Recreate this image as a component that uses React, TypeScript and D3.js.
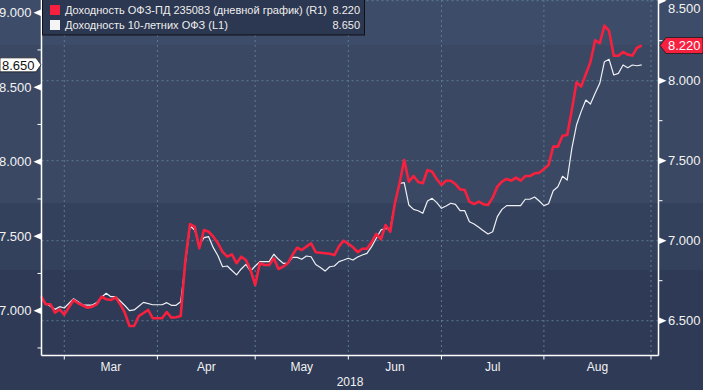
import React from "react";
import * as d3 from "d3";

// ---- Data (trading-day index since chart start, value) ----
const seriesRedName = "Доходность ОФЗ-ПД 235083 (дневной график) (R1)";
const seriesWhiteName = "Доходность 10-летних ОФЗ (L1)";
const redLast = 8.22;
const whiteLast = 8.65;

const redSeries: [number, number][] = [
  [0, 6.654], [1, 6.603], [2, 6.603], [3, 6.55], [4, 6.571], [5, 6.538], [6, 6.584], [7, 6.629],
  [8, 6.609], [10, 6.581], [11, 6.588], [12, 6.604], [13, 6.65], [14, 6.634], [15, 6.629], [16, 6.646],
  [17, 6.603], [18, 6.55], [19, 6.467], [20, 6.467], [21, 6.529], [23, 6.567], [24, 6.515], [25, 6.515],
  [26, 6.515], [27, 6.554], [28, 6.519], [29, 6.522], [30, 6.529], [31, 6.879], [32, 7.104], [33, 7.088],
  [34, 6.953], [35, 7.067], [36, 7.056], [37, 7.025], [38, 6.984], [39, 6.93], [40, 6.9], [41, 6.915],
  [42, 6.859], [43, 6.9], [44, 6.879], [45, 6.817], [46, 6.723], [47, 6.859], [48, 6.848], [49, 6.848],
  [50, 6.89], [51, 6.823], [52, 6.838], [53, 6.859], [54, 6.911], [55, 6.956], [56, 6.942], [57, 6.963],
  [58, 6.984], [59, 6.928], [60, 6.925], [61, 6.922], [62, 6.918], [63, 6.91], [64, 6.965], [65, 7.0],
  [66, 6.98], [67, 6.959], [68, 6.928], [69, 6.95], [70, 6.95], [71, 6.99], [72, 7.042], [73, 7.009],
  [74, 7.098], [75, 7.056], [76, 7.234], [77, 7.359], [78, 7.504], [79, 7.369], [80, 7.404], [81, 7.367],
  [82, 7.359], [83, 7.442], [84, 7.431], [85, 7.384], [86, 7.348], [87, 7.375], [88, 7.375], [89, 7.354],
  [90, 7.321], [91, 7.317], [92, 7.244], [93, 7.229], [94, 7.244], [95, 7.228], [96, 7.223], [97, 7.269],
  [98, 7.338], [99, 7.369], [100, 7.386], [101, 7.375], [102, 7.394], [103, 7.375], [104, 7.404], [105, 7.404],
  [106, 7.421], [107, 7.425], [108, 7.448], [109, 7.473], [110, 7.588], [111, 7.588], [112, 7.656], [113, 7.661],
  [114, 7.817], [115, 7.99], [116, 7.963], [117, 8.04], [118, 8.117], [119, 8.253], [120, 8.234], [121, 8.344],
  [122, 8.311], [123, 8.156], [124, 8.156], [125, 8.18], [126, 8.163], [127, 8.157], [128, 8.206], [129, 8.22],
];

const whiteSeries: [number, number][] = [
  [0, 7.09], [1, 7.05], [3, 7.009], [4, 7.027], [5, 7.018], [7, 7.081], [9, 7.038], [10, 7.038],
  [11, 7.038], [12, 7.055], [13, 7.09], [14, 7.117], [15, 7.094], [16, 7.094], [17, 7.065], [18, 7.035],
  [19, 7.0], [20, 7.005], [21, 7.03], [22, 7.056], [24, 7.04], [25, 7.04], [26, 7.04], [27, 7.054],
  [28, 7.036], [29, 7.036], [30, 7.06], [31, 7.318], [32, 7.568], [33, 7.542], [34, 7.441], [35, 7.49],
  [36, 7.497], [37, 7.423], [38, 7.369], [39, 7.295], [40, 7.3], [41, 7.27], [42, 7.24], [43, 7.28],
  [44, 7.311], [45, 7.266], [46, 7.3], [47, 7.329], [48, 7.329], [49, 7.329], [50, 7.379], [51, 7.345],
  [52, 7.318], [53, 7.318], [54, 7.358], [55, 7.358], [56, 7.345], [57, 7.367], [58, 7.362], [59, 7.31],
  [60, 7.29], [61, 7.266], [62, 7.295], [63, 7.3], [64, 7.329], [65, 7.34], [66, 7.352], [67, 7.34],
  [68, 7.36], [69, 7.374], [70, 7.385], [71, 7.43], [72, 7.486], [73, 7.542], [74, 7.55], [75, 7.553],
  [76, 7.721], [77, 7.855], [78, 7.859], [79, 7.709], [80, 7.68], [81, 7.671], [82, 7.654], [83, 7.736],
  [84, 7.754], [85, 7.725], [86, 7.687], [87, 7.703], [88, 7.721], [89, 7.714], [90, 7.671], [91, 7.671],
  [92, 7.597], [93, 7.582], [94, 7.56], [95, 7.537], [96, 7.515], [97, 7.53], [98, 7.631], [99, 7.68],
  [100, 7.705], [101, 7.705], [102, 7.705], [103, 7.705], [104, 7.748], [105, 7.748], [106, 7.763], [107, 7.736],
  [108, 7.705], [109, 7.718], [110, 7.805], [111, 7.832], [112, 7.902], [113, 7.877], [114, 8.09], [115, 8.246],
  [116, 8.336], [117, 8.414], [118, 8.387], [119, 8.459], [120, 8.526], [121, 8.671], [122, 8.687], [123, 8.582],
  [124, 8.593], [125, 8.649], [126, 8.631], [127, 8.649], [128, 8.644], [129, 8.65],
];

const monthLabels = ["Mar", "Apr", "May", "Jun", "Jul", "Aug"];
const monthStarts = [5, 25, 46, 66, 86, 108, 131];
const yearLabel = "2018";
const leftTicks = [7.0, 7.5, 8.0, 8.5, 9.0];
const leftMinor = [6.75, 7.25, 7.75, 8.25, 8.75];
const rightTicks = [6.5, 7.0, 7.5, 8.0, 8.5];
const rightMinor = [6.75, 7.25, 7.75, 8.25];

const W = 703;
const H = 390;
const PL = 41.5;
const PR = 658.5;
const PB = 355.5;
const FONT = "'Liberation Sans', Arial, sans-serif";
const RED = "#f7213f";
const GRID = "#5d7b92";

export default function App() {
  const x = d3.scaleLinear().domain([0, 131]).range([41, 651]);
  const yL = d3.scaleLinear().domain([7, 8.5]).range([310.7, 87.2]);
  const yR = d3.scaleLinear().domain([7, 8]).range([240.7, 80.7]);

  const redLine = d3.line<[number, number]>().x((d) => x(d[0])).y((d) => yR(d[1]));
  const whiteLine = d3.line<[number, number]>().x((d) => x(d[0])).y((d) => yL(d[1]));

  const fmt = d3.format(".3f");
  const yWL = yL(whiteLast);
  const yRL = yR(redLast);

  return (
    <svg width={W} height={H} style={{ position: "absolute", left: 0, top: 0, display: "block" }} fontFamily={FONT}>
      {/* background bands */}
      <rect x={0} y={0} width={W} height={45} fill="#3d4c69" />
      <rect x={0} y={45} width={W} height={158} fill="#3a4864" />
      <rect x={0} y={203} width={W} height={67} fill="#34415d" />
      <rect x={0} y={270} width={W} height={120} fill="#2e3a56" />

      {/* gridlines */}
      {rightTicks.map((t) => (
        <line key={"hg" + t} x1={PL} x2={PR} y1={yR(t)} y2={yR(t)} stroke={GRID} strokeDasharray="2,3" strokeWidth={1} />
      ))}
      {monthStarts.map((m) => (
        <line key={"vg" + m} x1={x(m)} x2={x(m)} y1={0} y2={PB} stroke={GRID} strokeDasharray="2,3" strokeWidth={1} />
      ))}

      {/* series */}
      <path d={whiteLine(whiteSeries) || ""} fill="none" stroke="#eef0f4" strokeWidth={1.2} strokeLinejoin="round" />
      <path d={redLine(redSeries) || ""} fill="none" stroke={RED} strokeWidth={2.6} strokeLinejoin="round" />

      {/* axes */}
      <line x1={PL} x2={PL} y1={0} y2={PB} stroke="#fff" strokeWidth={1.5} />
      <line x1={PR} x2={PR} y1={0} y2={PB} stroke="#fff" strokeWidth={1.5} />
      <line x1={PL} x2={PR} y1={PB} y2={PB} stroke="#fff" strokeWidth={1.5} />

      {/* left ticks */}
      {leftMinor.map((t) => (
        <line key={"lm" + t} x1={PL - 4} x2={PL} y1={yL(t)} y2={yL(t)} stroke="#fff" strokeWidth={1} />
      ))}
      {leftTicks.map((t) => (
        <g key={"lt" + t}>
          <polygon points={`${PL},${yL(t) - 3.5} ${PL},${yL(t) + 3.5} ${PL - 8},${yL(t)}`} fill="#fff" />
          <text x={31.5} y={yL(t)} dy="0.36em" textAnchor="end" fontSize={13} fill="#f2f2f2">
            {fmt(t)}
          </text>
        </g>
      ))}

      {/* right ticks */}
      {rightMinor.map((t) => (
        <line key={"rm" + t} x1={PR} x2={PR + 4} y1={yR(t)} y2={yR(t)} stroke="#fff" strokeWidth={1} />
      ))}
      {rightTicks.map((t) => (
        <g key={"rt" + t}>
          <polygon points={`${PR},${yR(t) - 3.5} ${PR},${yR(t) + 3.5} ${PR + 8},${yR(t)}`} fill="#fff" />
          <text x={668} y={Math.max(yR(t), 8)} dy="0.36em" textAnchor="start" fontSize={13} fill="#f2f2f2">
            {fmt(t)}
          </text>
        </g>
      ))}

      {/* bottom ticks and labels */}
      {monthStarts.map((m) => (
        <line key={"bt" + m} x1={x(m)} x2={x(m)} y1={PB} y2={PB + 4} stroke="#fff" strokeWidth={1} />
      ))}
      {monthLabels.map((lab, i) => (
        <text key={lab} x={(x(monthStarts[i]) + x(monthStarts[i + 1])) / 2} y={367} dy="0.36em" textAnchor="middle" fontSize={12} fill="#f2f2f2">
          {lab}
        </text>
      ))}
      <text x={(PL + PR) / 2} y={382} dy="0.36em" textAnchor="middle" fontSize={12} fill="#f2f2f2">
        {yearLabel}
      </text>

      {/* last value labels */}
      <polygon points={`0,${yWL - 7} 36,${yWL - 7} 41,${yWL} 36,${yWL + 7} 0,${yWL + 7}`} fill="#ffffff" stroke="#1a1a1a" strokeWidth={0.8} />
      <text x={2} y={yWL} dy="0.36em" fontSize={13} fill="#111">
        {fmt(whiteLast)}
      </text>
      <polygon points={`660,${yRL} 666,${yRL - 8} 703,${yRL - 8} 703,${yRL + 8} 666,${yRL + 8}`} fill={RED} stroke="#1a1a1a" strokeWidth={0.8} />
      <text x={668} y={yRL} dy="0.36em" fontSize={13} fill="#ffffff">
        {fmt(redLast)}
      </text>

      {/* legend */}
      <rect x={42.5} y={-1} width={322} height={36} fill="#2c3751" stroke="#101018" strokeWidth={1} />
      <rect x={50} y={5} width={10} height={10} fill={RED} />
      <rect x={50} y={20} width={10} height={10} fill="#f4f4f4" />
      <text x={65} y={10} dy="0.36em" fontSize={11} fill="#eeeeee">
        {seriesRedName}
      </text>
      <text x={65} y={25} dy="0.36em" fontSize={11} fill="#eeeeee">
        {seriesWhiteName}
      </text>
      <text x={360} y={10} dy="0.36em" textAnchor="end" fontSize={11} fill="#eeeeee">
        {fmt(redLast)}
      </text>
      <text x={360} y={25} dy="0.36em" textAnchor="end" fontSize={11} fill="#eeeeee">
        {fmt(whiteLast)}
      </text>
    </svg>
  );
}
